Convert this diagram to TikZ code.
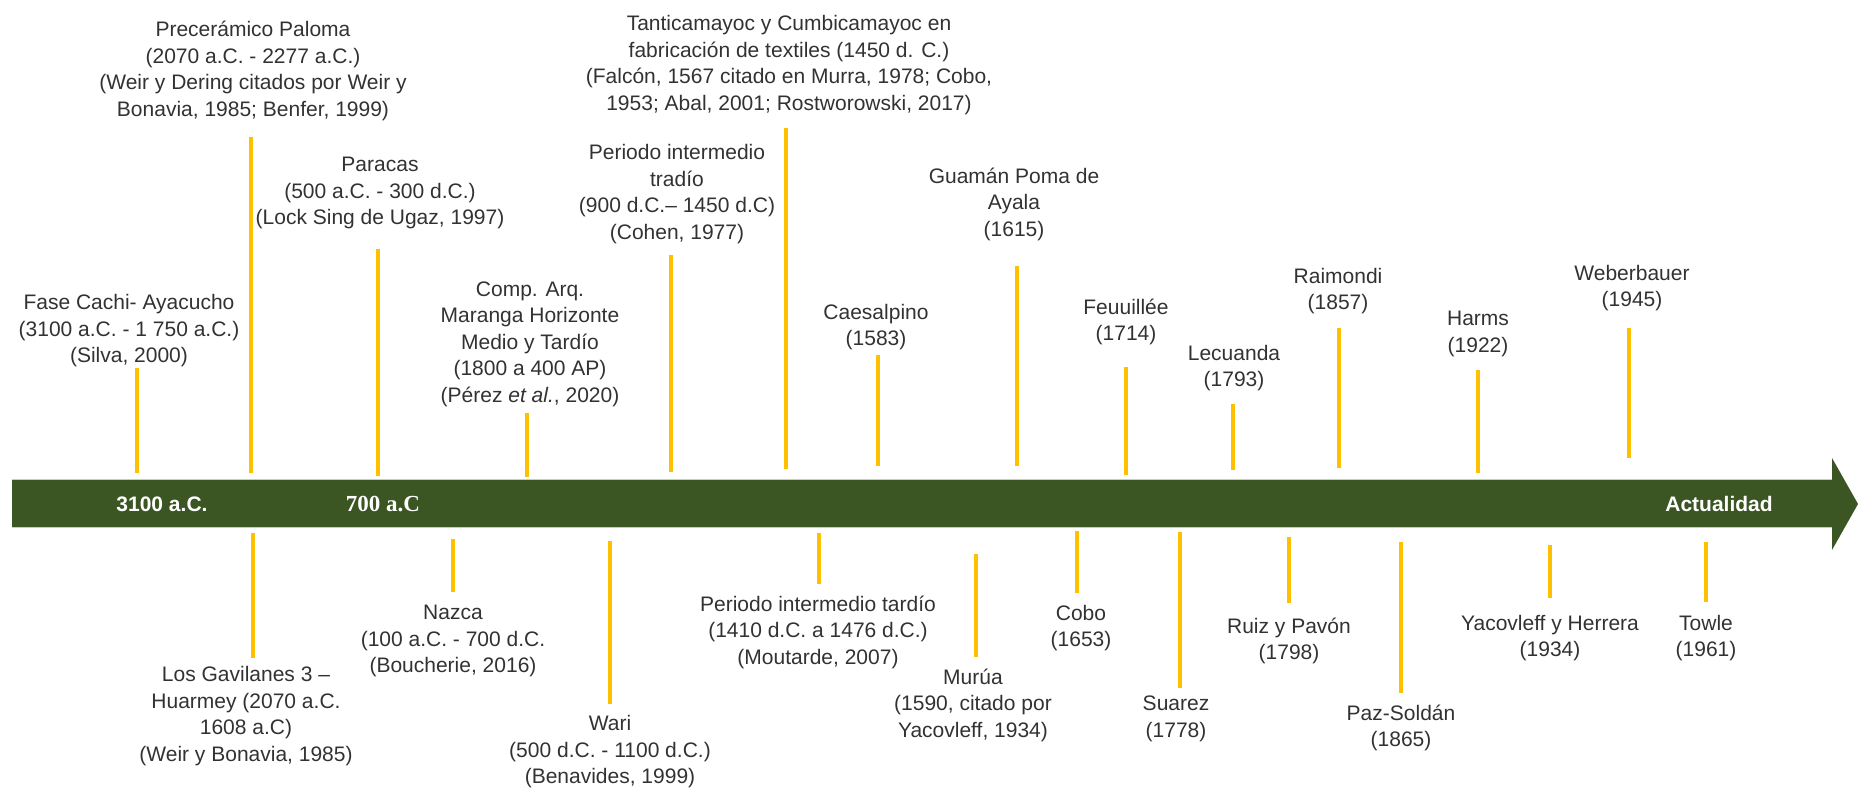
\documentclass[tikz,border=0pt]{standalone}
\usepackage{fontspec}
\setmainfont{Liberation Sans}
\newfontfamily\barserif{Liberation Serif}
\usepackage{xcolor}
\usepackage{tikz}
\usetikzlibrary{positioning}
\definecolor{bargreen}{RGB}{59,85,35}
\definecolor{bargrey}{RGB}{200,205,195}
\definecolor{tickamber}{RGB}{255,192,0}
\definecolor{txtgrey}{RGB}{50,50,50}
\tikzset{
  evlabel/.style={align=center, inner sep=0pt, text=txtgrey,
    font=\fontsize{10.5}{13.25}\selectfont},
  tick/.style={draw=tickamber, line width=1.6pt},
  barlabel/.style={inner sep=0pt, text=white,
    font=\fontsize{10.5}{13}\selectfont\bfseries}
}

\begin{document}
\begin{tikzpicture}[x=0.5pt, y=-0.5pt]
  \useasboundingbox (0,0) rectangle (1858,790);

  % timeline arrow
  \fill[bargreen] (12,480) -- (1832,480) -- (1832,458) -- (1858,504)
    -- (1832,550) -- (1832,528) -- (12,528) -- cycle;
  \draw[bargrey, line width=0.5pt] (12,480) -- (1832,480) (12,528) -- (1832,528);
  \node[barlabel] (yr3100) at (162,504) {3100 a.C.};
  \node[barlabel, font=\barserif\fontsize{11.5}{13}\selectfont\bfseries] (yr700) at (383,504) {700 a.C};
  \node[barlabel] (actual) at (1719,504) {Actualidad};

  % events above the line
  \node[evlabel] (cachi) at (129,331) {Fase Cachi- Ayacucho\\(3100 a.C. - 1 750 a.C.)\\(Silva, 2000)};
  \node[evlabel] (paloma) at (253,71) {Precerámico Paloma\\(2070 a.C. - 2277 a.C.)\\(Weir y Dering citados por Weir y\\Bonavia, 1985; Benfer, 1999)};
  \node[evlabel] (paracas) at (380,193) {Paracas\\(500 a.C. - 300 d.C.)\\(Lock Sing de Ugaz, 1997)};
  \node[evlabel] (maranga) at (530,344) {Comp. Arq.\\Maranga Horizonte\\Medio y Tardío\\(1800 a 400 AP)\\(Pérez \textit{et al.}, 2020)};
  \node[evlabel] (tardio) at (677,194) {Periodo intermedio\\tradío\\(900 d.C.– 1450 d.C)\\(Cohen, 1977)};
  \node[evlabel] (tanti) at (789,65) {Tanticamayoc y Cumbicamayoc en\\fabricación de textiles (1450 d. C.)\\(Falcón, 1567 citado en Murra, 1978; Cobo,\\1953; Abal, 2001; Rostworowski, 2017)};
  \node[evlabel] (caesal) at (876,327) {Caesalpino\\(1583)};
  \node[evlabel] (guaman) at (1014,204) {Guamán Poma de\\Ayala\\(1615)};
  \node[evlabel] (feuil) at (1126,322) {Feuuillée\\(1714)};
  \node[evlabel] (lecuanda) at (1234,368) {Lecuanda\\(1793)};
  \node[evlabel] (raimondi) at (1338,291) {Raimondi\\(1857)};
  \node[evlabel] (harms) at (1478,334) {Harms\\(1922)};
  \node[evlabel] (weber) at (1632,288) {Weberbauer\\(1945)};

  % events below the line
  \node[evlabel] (gavil) at (246,716) {Los Gavilanes 3 –\\Huarmey (2070 a.C.\\1608 a.C)\\(Weir y Bonavia, 1985)};
  \node[evlabel] (nazca) at (453,641) {Nazca\\(100 a.C. - 700 d.C.\\(Boucherie, 2016)};
  \node[evlabel] (wari) at (610,752) {Wari\\(500 d.C. - 1100 d.C.)\\(Benavides, 1999)};
  \node[evlabel] (ptardio) at (818,632) {Periodo intermedio tardío\\(1410 d.C. a 1476 d.C.)\\(Moutarde, 2007)};
  \node[evlabel] (murua) at (973,705) {Murúa\\(1590, citado por\\Yacovleff, 1934)};
  \node[evlabel] (cobo) at (1081,628) {Cobo\\(1653)};
  \node[evlabel] (suarez) at (1176,719) {Suarez\\(1778)};
  \node[evlabel] (ruiz) at (1289,641) {Ruiz y Pavón\\(1798)};
  \node[evlabel] (pazsoldan) at (1401,728) {Paz-Soldán\\(1865)};
  \node[evlabel] (yacov) at (1550,638) {Yacovleff y Herrera\\(1934)};
  \node[evlabel] (towle) at (1706,638) {Towle\\(1961)};

  % tick ends
  \coordinate (cachi-a) at (137,368);     \coordinate (cachi-b) at (137,473);
  \coordinate (paloma-a) at (251,137);    \coordinate (paloma-b) at (251,473);
  \coordinate (paracas-a) at (378,249);   \coordinate (paracas-b) at (378,476);
  \coordinate (maranga-a) at (527,413);   \coordinate (maranga-b) at (527,477);
  \coordinate (tardio-a) at (671,255);    \coordinate (tardio-b) at (671,472);
  \coordinate (tanti-a) at (786,128);     \coordinate (tanti-b) at (786,469);
  \coordinate (caesal-a) at (878,355);    \coordinate (caesal-b) at (878,466);
  \coordinate (guaman-a) at (1017,266);   \coordinate (guaman-b) at (1017,466);
  \coordinate (feuil-a) at (1126,367);    \coordinate (feuil-b) at (1126,475);
  \coordinate (lecuanda-a) at (1233,404); \coordinate (lecuanda-b) at (1233,470);
  \coordinate (raimondi-a) at (1339,328); \coordinate (raimondi-b) at (1339,468);
  \coordinate (harms-a) at (1478,370);    \coordinate (harms-b) at (1478,473);
  \coordinate (weber-a) at (1629,328);    \coordinate (weber-b) at (1629,458);
  \coordinate (gavil-a) at (253,533);     \coordinate (gavil-b) at (253,658);
  \coordinate (nazca-a) at (453,539);     \coordinate (nazca-b) at (453,592);
  \coordinate (wari-a) at (610,541);      \coordinate (wari-b) at (610,704);
  \coordinate (ptardio-a) at (819,533);   \coordinate (ptardio-b) at (819,584);
  \coordinate (murua-a) at (976,554);     \coordinate (murua-b) at (976,657);
  \coordinate (cobo-a) at (1077,531);     \coordinate (cobo-b) at (1077,593);
  \coordinate (suarez-a) at (1180,532);   \coordinate (suarez-b) at (1180,688);
  \coordinate (ruiz-a) at (1289,537);     \coordinate (ruiz-b) at (1289,603);
  \coordinate (pazsoldan-a) at (1401,542); \coordinate (pazsoldan-b) at (1401,693);
  \coordinate (yacov-a) at (1550,545);    \coordinate (yacov-b) at (1550,598);
  \coordinate (towle-a) at (1706,542);    \coordinate (towle-b) at (1706,602);

  \draw[tick] (cachi-a) -- (cachi-b);
  \draw[tick] (paloma-a) -- (paloma-b);
  \draw[tick] (paracas-a) -- (paracas-b);
  \draw[tick] (maranga-a) -- (maranga-b);
  \draw[tick] (tardio-a) -- (tardio-b);
  \draw[tick] (tanti-a) -- (tanti-b);
  \draw[tick] (caesal-a) -- (caesal-b);
  \draw[tick] (guaman-a) -- (guaman-b);
  \draw[tick] (feuil-a) -- (feuil-b);
  \draw[tick] (lecuanda-a) -- (lecuanda-b);
  \draw[tick] (raimondi-a) -- (raimondi-b);
  \draw[tick] (harms-a) -- (harms-b);
  \draw[tick] (weber-a) -- (weber-b);
  \draw[tick] (gavil-a) -- (gavil-b);
  \draw[tick] (nazca-a) -- (nazca-b);
  \draw[tick] (wari-a) -- (wari-b);
  \draw[tick] (ptardio-a) -- (ptardio-b);
  \draw[tick] (murua-a) -- (murua-b);
  \draw[tick] (cobo-a) -- (cobo-b);
  \draw[tick] (suarez-a) -- (suarez-b);
  \draw[tick] (ruiz-a) -- (ruiz-b);
  \draw[tick] (pazsoldan-a) -- (pazsoldan-b);
  \draw[tick] (yacov-a) -- (yacov-b);
  \draw[tick] (towle-a) -- (towle-b);
\end{tikzpicture}
\end{document}
